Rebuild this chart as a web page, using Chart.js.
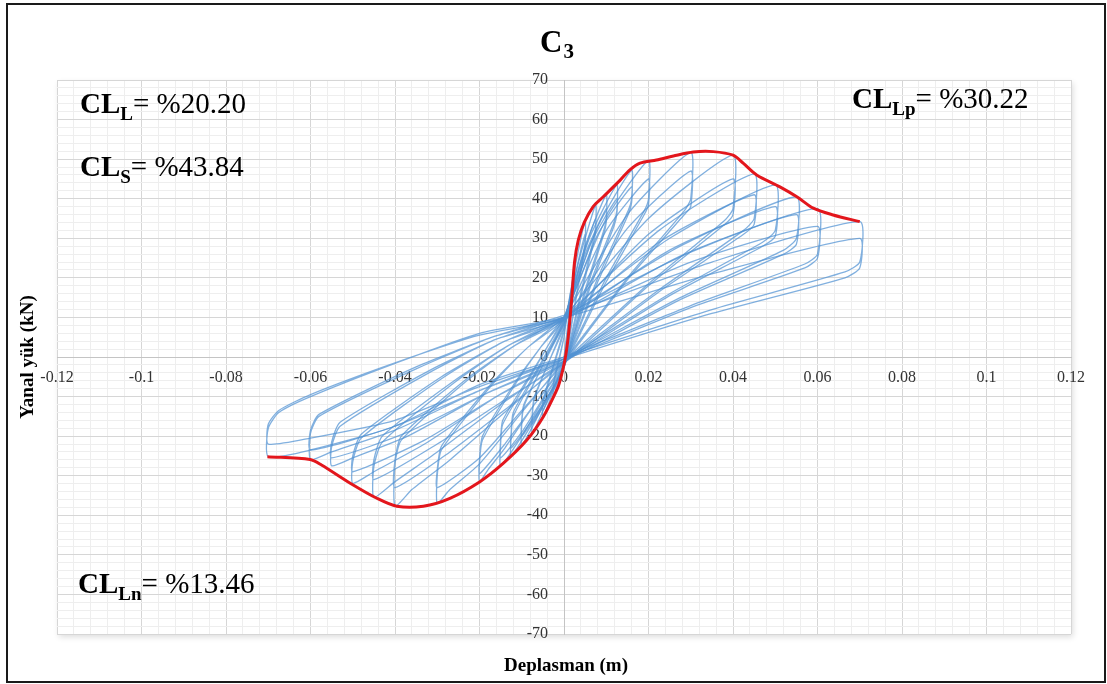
<!DOCTYPE html>
<html>
<head>
<meta charset="utf-8">
<script src="https://cdn.jsdelivr.net/npm/chart.js@4.4.1/dist/chart.umd.min.js"></script>
<style>
  html, body { margin: 0; padding: 0; background: #fff; }
  #wrap { width: 1107px; height: 684px; }
</style>
</head>
<body>
<div id="wrap"><canvas id="c3Chart" width="1107" height="684"></canvas></div>
<script>
// Tick labels
const xLabels = [-0.12, -0.1, -0.08, -0.06, -0.04, -0.02, 0, 0.02, 0.04, 0.06, 0.08, 0.1, 0.12];
const yLabels = [-70, -60, -50, -40, -30, -20, -10, 0, 10, 20, 30, 40, 50, 60, 70];

// Envelope (red) - displacement (m) and lateral load (kN)
const envDisp = [-0.0702, -0.0601, -0.0574, -0.0506, -0.0443, -0.0396, -0.0333, -0.027, -0.0199, -0.0144,
  -0.0088, -0.0049, -0.0017, -0.001, 0.0002, 0.001, 0.0018, 0.0025, 0.0034, 0.0048, 0.0069, 0.0093,
  0.0133, 0.0156, 0.018, 0.0219, 0.0259, 0.0306, 0.0353, 0.040, 0.0424, 0.0456, 0.0511, 0.0551,
  0.059, 0.0637, 0.070];
const envLoad = [-25.2, -25.9, -27.3, -31.9, -35.7, -37.7, -37.7, -35.7, -31.5, -26.9,
  -21, -15.1, -8.3, -6.2, -0.8, 5.1, 14.4, 24, 29.6, 34, 38, 40.5,
  44.7, 47.3, 49, 49.8, 50.8, 51.8, 51.9, 51, 49, 46, 43, 40.5,
  37.6, 35.9, 34.2];

// Hysteresis loops, one array per displacement level: [displacement, load]
const loop0025 = [[0,0],[0.0012,11],[0.0025,24],[0.0025,20],[0.0012,9],[0,-1.5],[-0.0012,-5.5],[-0.0025,-10],[-0.0025,-7],[-0.0012,-1],[0,5],[0.0012,14],[0.0025,21],[0.0025,19],[0.0012,8],[0,-2],[-0.0012,-5],[-0.0025,-8.5],[-0.0025,-6.5],[-0.0012,-0.5],[0,5]];
const loop005 = [[0,7],[0.0025,22],[0.005,34.5],[0.005,29],[0.0025,13],[0,-2],[-0.0025,-8.5],[-0.005,-15.3],[-0.005,-12],[-0.0025,-2.5],[0,6.5],[0.0025,20],[0.005,31],[0.005,28],[0.0025,12.5],[0,-2.5],[-0.0025,-8],[-0.005,-13.5],[-0.005,-11],[-0.0025,-2],[0,7]];
const loop0075 = [[0,8],[0.0037,25],[0.0075,38.5],[0.0075,33],[0.007,30],[0.0037,15],[0,-2],[-0.0037,-10.5],[-0.0075,-19.3],[-0.0075,-15],[-0.007,-10.5],[-0.0037,-1.5],[0,7.5],[0.0037,23],[0.0075,35],[0.0075,31.5],[0.007,29],[0.0037,14],[0,-2.5],[-0.0037,-10],[-0.0075,-17],[-0.0075,-14],[-0.007,-10],[-0.0037,-1.5],[0,8]];
const loop010 = [[0,9],[0.005,28],[0.01,41],[0.01,35],[0.0094,32],[0.005,17],[0,-2],[-0.005,-12.5],[-0.01,-22.3],[-0.01,-17],[-0.0095,-12.5],[-0.005,-2],[0,8.5],[0.005,26],[0.01,37.5],[0.01,34],[0.0094,31],[0.005,16],[0,-2.5],[-0.005,-12],[-0.01,-20],[-0.01,-16],[-0.0095,-12],[-0.005,-2],[0,9]];
const loop0125 = [[0,9],[0.006,30],[0.0125,43.5],[0.0125,37],[0.0118,34],[0.006,18],[0,-2],[-0.006,-14],[-0.0125,-25],[-0.0125,-20],[-0.012,-15],[-0.006,-3],[0,8.5],[0.006,28],[0.0125,40],[0.0125,36],[0.0118,33],[0.006,17],[0,-2.5],[-0.006,-13.5],[-0.0125,-23],[-0.0125,-19],[-0.012,-14],[-0.006,-2.5],[0,9]];
const loop015 = [[0,10],[0.008,33],[0.016,47.2],[0.016,40],[0.0152,37],[0.008,20],[0,-2],[-0.005,-11],[-0.01,-20],[-0.015,-27.5],[-0.015,-22],[-0.0145,-17],[-0.008,-5],[-0.004,2.5],[0,9.5],[0.008,31],[0.016,43],[0.016,39],[0.0152,36],[0.008,19],[0,-2],[-0.005,-10.5],[-0.01,-19],[-0.015,-25.5],[-0.015,-21],[-0.0145,-16],[-0.008,-4.5],[-0.004,2.5],[0,10]];
const loop020 = [[0,10],[0.01,35],[0.02,49.7],[0.02,40],[0.019,37],[0.01,20],[0,-1.5],[-0.007,-12],[-0.014,-23],[-0.018,-28.5],[-0.02,-31.5],[-0.02,-27],[-0.0193,-21],[-0.011,-6],[-0.0055,2.5],[0,9.5],[0.01,32],[0.02,45],[0.02,38.5],[0.019,36],[0.01,19],[0,-2],[-0.007,-12],[-0.014,-22],[-0.02,-29.5],[-0.02,-26],[-0.0193,-20],[-0.011,-5.5],[-0.0055,2.5],[0,10]];
const loop030 = [[0,10],[0.015,36],[0.03,51.7],[0.03,40],[0.0285,37],[0.015,20],[0,-1],[-0.01,-14],[-0.02,-27],[-0.027,-33.5],[-0.03,-37],[-0.03,-30],[-0.029,-23.5],[-0.017,-7],[-0.0085,2.5],[0,9.5],[0.015,32.5],[0.03,47],[0.03,38],[0.0285,36],[0.015,19.5],[0,-1.5],[-0.01,-13.5],[-0.02,-25.5],[-0.03,-33],[-0.03,-28.5],[-0.029,-22.5],[-0.017,-6.5],[-0.0085,2.5],[0,10]];
const loop040 = [[0,10],[0.02,35],[0.04,51],[0.04,37.5],[0.038,34.5],[0.02,18.5],[0,-1],[-0.013,-13],[-0.027,-26],[-0.036,-33.5],[-0.04,-37.7],[-0.04,-27],[-0.0385,-21],[-0.023,-6],[-0.0115,3],[0,9.5],[0.02,31],[0.04,45],[0.04,36],[0.038,33.5],[0.02,18],[0,-1.5],[-0.013,-12.5],[-0.027,-24],[-0.04,-33],[-0.04,-26],[-0.0385,-20],[-0.023,-5.5],[-0.0115,3],[0,10]];
const loop045 = [[0,10],[0.0225,32],[0.045,46.3],[0.045,35],[0.0425,32],[0.0225,17],[0,-1],[-0.015,-12],[-0.03,-24],[-0.04,-31.5],[-0.045,-35.5],[-0.045,-27.7],[-0.043,-21.5],[-0.026,-6.5],[-0.013,3],[0,9.5],[0.0225,29],[0.045,41],[0.045,33.5],[0.0425,31],[0.0225,16.5],[0,-1.5],[-0.015,-11.5],[-0.03,-22],[-0.045,-31],[-0.045,-26],[-0.043,-20],[-0.026,-6],[-0.013,3],[0,10]];
const loop050 = [[0,10],[0.025,30],[0.05,43.5],[0.05,32],[0.047,29],[0.025,16],[0,-0.5],[-0.016,-10],[-0.033,-22],[-0.045,-29],[-0.05,-31.9],[-0.05,-26.5],[-0.048,-20.5],[-0.029,-5.5],[-0.014,4],[0,9.5],[0.025,27],[0.05,38],[0.05,30.5],[0.047,28],[0.025,15.5],[0,-1],[-0.016,-10],[-0.033,-21],[-0.05,-29],[-0.05,-25],[-0.048,-19.5],[-0.029,-5],[-0.014,4],[0,10]];
const loop055 = [[0,10],[0.0275,28],[0.055,40.5],[0.055,30],[0.052,27],[0.0275,15],[0,-0.5],[-0.018,-9],[-0.037,-20],[-0.05,-25.5],[-0.055,-27.5],[-0.055,-22.7],[-0.053,-17.5],[-0.032,-4],[-0.016,4.5],[0,9.5],[0.0275,25.5],[0.055,36],[0.055,28.5],[0.052,26],[0.0275,14.5],[0,-1],[-0.018,-9],[-0.037,-19],[-0.055,-25.5],[-0.055,-21.5],[-0.053,-16.5],[-0.032,-3.5],[-0.016,4.5],[0,10]];
const loop060 = [[0,10.5],[0.03,26.5],[0.06,37.5],[0.06,26],[0.057,23.5],[0.03,13],[0,0],[-0.02,-8.5],[-0.04,-18.5],[-0.055,-24],[-0.06,-25.9],[-0.06,-19.3],[-0.058,-15],[-0.035,-3],[-0.017,5],[0,10],[0.03,24],[0.06,33],[0.06,25],[0.057,22.5],[0.03,12.5],[0,-0.5],[-0.02,-8.5],[-0.04,-17.5],[-0.06,-23.5],[-0.06,-18.5],[-0.058,-14.5],[-0.035,-2.5],[-0.017,5],[0,10.5]];
const loop070 = [[0,10.5],[0.035,24],[0.07,34.2],[0.07,24],[0.0665,21.5],[0.035,12],[0,0],[-0.02,-7],[-0.04,-17.5],[-0.06,-23.5],[-0.07,-25.2],[-0.07,-18],[-0.0675,-14],[-0.06,-10],[-0.04,-1.6],[-0.02,6],[0,10],[0.035,21],[0.07,30],[0.07,22.5],[0.0665,20],[0.035,11],[0,-0.5],[-0.02,-7.5],[-0.04,-16],[-0.06,-20.5],[-0.07,-22],[-0.07,-17],[-0.0675,-13.5],[-0.06,-9.5],[-0.04,-1.5],[-0.02,5.5],[0,9.5]];

const loops = [loop0025, loop005, loop0075, loop010, loop0125, loop015, loop020,
  loop030, loop040, loop045, loop050, loop055, loop060, loop070];

const SERIF = '"Liberation Serif", "Times New Roman", serif';

function isOn(list, v) {
  return list.some(l => Math.abs(l - v) < 1e-9);
}

// Blue hysteresis datasets
const loopSets = loops.map(loop => ({
  data: loop.map(p => ({ x: p[0], y: p[1] })),
  showLine: true,
  borderColor: 'rgba(80, 146, 210, 0.72)',
  borderWidth: 1.3,
  pointRadius: 0,
  tension: 0.2,
  order: 1
}));

// Red envelope
const envelopeSet = {
  data: envDisp.map((d, i) => ({ x: d, y: envLoad[i] })),
  showLine: true,
  borderColor: '#e3161c',
  borderWidth: 3,
  pointRadius: 0,
  tension: 0.3,
  order: 0
};

// Texts, frame, axis titles
function drawCL(ctx, x, y, sub, value) {
  ctx.font = 'bold 29px ' + SERIF;
  ctx.fillText('CL', x, y);
  x += ctx.measureText('CL').width;
  ctx.font = 'bold 19px ' + SERIF;
  ctx.fillText(sub, x, y + 7);
  x += ctx.measureText(sub).width;
  ctx.font = '29px ' + SERIF;
  ctx.fillText('= %' + value, x, y);
}

const textPlugin = {
  id: 'c3Text',
  beforeDraw(chart) {
    const { ctx, chartArea: a } = chart;
    ctx.save();
    ctx.shadowColor = 'rgba(0,0,0,0.14)';
    ctx.shadowBlur = 6;
    ctx.shadowOffsetX = 2;
    ctx.shadowOffsetY = 3;
    ctx.fillStyle = '#fff';
    ctx.fillRect(a.left, a.top, a.right - a.left, a.bottom - a.top);
    ctx.restore();
  },
  afterDraw(chart) {
    const ctx = chart.ctx;
    ctx.save();
    ctx.fillStyle = '#000';
    ctx.textAlign = 'left';
    ctx.textBaseline = 'alphabetic';

    // title C3
    ctx.font = 'bold 31px ' + SERIF;
    ctx.fillText('C', 540, 52);
    const w = ctx.measureText('C').width;
    ctx.font = 'bold 21px ' + SERIF;
    ctx.fillText('3', 540 + w + 1, 58);

    drawCL(ctx, 80, 113, 'L', '20.20');
    drawCL(ctx, 80, 176, 'S', '43.84');
    drawCL(ctx, 852, 108, 'Lp', '30.22');
    drawCL(ctx, 78, 593, 'Ln', '13.46');

    // axis titles
    ctx.font = 'bold 19px ' + SERIF;
    ctx.textAlign = 'center';
    ctx.fillText('Deplasman (m)', 566, 671);
    ctx.save();
    ctx.translate(33, 357);
    ctx.rotate(-Math.PI / 2);
    ctx.fillText('Yanal yük (kN)', 0, 0);
    ctx.restore();

    // outer frame
    ctx.strokeStyle = '#1a1a1a';
    ctx.lineWidth = 2;
    ctx.strokeRect(7, 4, 1098, 678);
    ctx.restore();
  }
};

const ctx = document.getElementById('c3Chart').getContext('2d');
const c3Chart = new Chart(ctx, {
  type: 'scatter',
  data: { datasets: [envelopeSet].concat(loopSets) },
  options: {
    responsive: false,
    animation: false,
    events: [],
    layout: { padding: { left: 57, right: 36, top: 80, bottom: 50 } },
    plugins: {
      legend: { display: false },
      tooltip: { enabled: false },
      title: { display: false }
    },
    scales: {
      x: {
        type: 'linear',
        min: -0.12,
        max: 0.12,
        position: { y: 0 },
        ticks: {
          stepSize: 0.004,
          autoSkip: false,
          maxRotation: 0,
          padding: 11,
          color: '#333',
          font: { family: SERIF, size: 16 },
          callback: v => isOn(xLabels, v) ? String(Math.round(v * 100) / 100) : ''
        },
        grid: {
          drawTicks: false,
          color: c => isOn(xLabels, c.tick.value) ? '#d6d6d6' : '#eeeeee'
        },
        border: { color: '#c4c4c4', width: 1 }
      },
      y: {
        type: 'linear',
        min: -70,
        max: 70,
        position: { x: 0 },
        ticks: {
          stepSize: 2,
          autoSkip: false,
          color: '#333',
          font: { family: SERIF, size: 16 },
          // centred axis ignores padding, so trailing spaces keep the gap
          callback: v => isOn(yLabels, v) ? String(v) + '    ' : ''
        },
        grid: {
          drawTicks: false,
          color: c => isOn(yLabels, c.tick.value) ? '#d6d6d6' : '#eeeeee'
        },
        border: { color: '#c4c4c4', width: 1 }
      }
    }
  },
  plugins: [textPlugin]
});
</script>
</body>
</html>
